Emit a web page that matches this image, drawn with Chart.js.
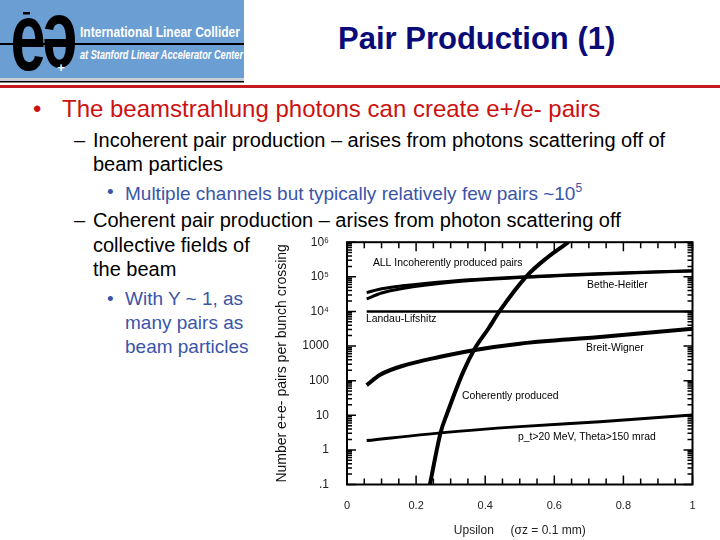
<!DOCTYPE html>
<html>
<head>
<meta charset="utf-8">
<script src="https://cdn.jsdelivr.net/npm/chart.js@4.4.1/dist/chart.umd.min.js"></script>
<style>
body { margin:0; width:720px; height:540px; background:#fff; position:relative; overflow:hidden; font-family:"Liberation Sans", Arial, sans-serif; }
.t { position:absolute; white-space:nowrap; line-height:1; }
.red { color:#cc1111; font-size:24px; }
.blk { color:#000; font-size:20px; }
.blu { color:#3a55a8; font-size:19px; }
#chart { position:absolute; left:270px; top:225px; }
</style>
</head>
<body>
<svg width="245" height="84" style="position:absolute;left:0;top:0">
  <rect x="0" y="0" width="244" height="78" fill="#6b9ed3"/>
  <rect x="0" y="78" width="244" height="3" fill="#c9ced6"/>
  <rect x="0" y="81" width="244" height="1.5" fill="#000"/>
  <line x1="0" y1="44" x2="244" y2="44" stroke="#000" stroke-width="2"/>
  <text transform="translate(28,70) scale(0.66,1)" font-size="96" font-weight="bold" text-anchor="middle" font-family="Liberation Sans">e</text>
  <text transform="translate(60,16) rotate(180) scale(0.66,1)" font-size="96" font-weight="bold" text-anchor="middle" font-family="Liberation Sans">e</text>
  <rect x="23" y="12" width="7" height="2.5" fill="#000"/>
  <text x="61" y="72" font-size="13" font-weight="bold" fill="#fff" text-anchor="middle" font-family="Liberation Sans">+</text>
  <text x="80" y="37" textLength="160" lengthAdjust="spacingAndGlyphs" fill="#fff" font-weight="bold" font-size="14" font-family="Liberation Sans">International Linear Collider</text>
  <text x="80" y="59" textLength="163" lengthAdjust="spacingAndGlyphs" fill="#fff" font-weight="bold" font-style="italic" font-size="13" font-family="Liberation Sans">at Stanford Linear Accelerator Center</text>
</svg>
<div style="position:absolute;left:0;top:85px;width:720px;height:3px;background:#c41a1f"></div>
<div class="t" style="left:338px;top:23px;font-size:31px;font-weight:bold;color:#0b0b78">Pair Production (1)</div>

<div class="t red" style="left:33px;top:97px">•</div>
<div class="t red" style="left:62px;top:97px">The beamstrahlung photons can create e+/e- pairs</div>
<div class="t blk" style="left:74px;top:130px">–</div>
<div class="t blk" style="left:93px;top:130px">Incoherent pair production – arises from photons scattering off of</div>
<div class="t blk" style="left:93px;top:154px">beam particles</div>
<div class="t blu" style="left:107px;top:182px">•</div>
<div class="t blu" style="left:125px;top:182px">Multiple channels but typically relatively few pairs ~10<sup style="font-size:12px;vertical-align:8px">5</sup></div>
<div class="t blk" style="left:74px;top:210px">–</div>
<div class="t blk" style="left:93px;top:210px">Coherent pair production – arises from photon scattering off</div>
<div class="t blk" style="left:93px;top:235px">collective fields of</div>
<div class="t blk" style="left:93px;top:259px">the beam</div>
<div class="t blu" style="left:107px;top:289px">•</div>
<div class="t blu" style="left:125px;top:289px">With Y ~ 1, as</div>
<div class="t blu" style="left:125px;top:313px">many pairs as</div>
<div class="t blu" style="left:125px;top:337px">beam particles</div>

<canvas id="chart" width="440" height="315"></canvas>

<script>
// Upsilon (x) and pairs per bunch crossing (y) for each curve
const allX = [0.057, 0.1, 0.16, 0.3, 0.5, 0.7, 1.0]
const allY = [3.5e4, 4.5e4, 5.5e4, 7.5e4, 9.8e4, 1.2e5, 1.5e5]
const bhX = [0.057, 0.1, 0.16, 0.3, 0.5, 0.7, 1.0]
const bhY = [2.3e4, 3.4e4, 4.6e4, 7.0e4, 9.5e4, 1.17e5, 1.47e5]
const llX = [0.057, 1.0]
const llY = [1e4, 1e4]
const bwX = [0.057, 0.096, 0.173, 0.27, 0.366, 0.5, 0.732, 1.0]
const bwY = [74, 148, 290, 490, 760, 1170, 1820, 3160]
const ptX = [0.057, 0.27, 0.5, 0.732, 1.0]
const ptY = [1.86, 3.1, 4.7, 6.5, 10.2]
const cohX = [0.240, 0.271, 0.289, 0.337, 0.370, 0.409, 0.441, 0.52, 0.578, 0.641]
const cohY = [0.1, 3.2, 10.7, 186, 850, 3160, 1e4, 1.05e5, 3.5e5, 1e6]

const xTickValues = [0, 0.2, 0.4, 0.6, 0.8, 1]
const xTickLabels = ["0", "0.2", "0.4", "0.6", "0.8", "1"]
const yTickValues = [0.1, 1, 10, 100, 1000, 1e4, 1e5, 1e6]
const yTickLabels = [".1", "1", "10", "100", "1000", "10⁴", "10⁵", "10⁶"]

const noteTexts = ["ALL Incoherently produced pairs", "Bethe-Heitler", "Landau-Lifshitz",
  "Breit-Wigner", "Coherently produced", "p_t>20 MeV, Theta>150 mrad"]
const noteX = [0.075, 0.695, 0.055, 0.692, 0.333, 0.495]
const noteY = [2.5e5, 5.6e4, 6000, 890, 35, 2.3]

function pts(xs, ys) {
  return xs.map((v, i) => ({ x: v, y: ys[i] }))
}

function curve(label, xs, ys, w) {
  return {
    label: label,
    data: pts(xs, ys),
    borderColor: "#000",
    borderWidth: w,
    pointRadius: 0,
    cubicInterpolationMode: "monotone",
    fill: false
  }
}

// box, inside tick marks and curve names
const frame = {
  id: "frame",
  afterDatasetsDraw(chart) {
    const ctx = chart.ctx
    const a = chart.chartArea
    const x = chart.scales.x
    const y = chart.scales.y
    ctx.save()
    ctx.strokeStyle = "#000"
    ctx.lineWidth = 2
    ctx.strokeRect(a.left, a.top, a.right - a.left, a.bottom - a.top)
    ctx.lineWidth = 1.5
    ctx.beginPath()
    for (let e = -1; e <= 5; e++) {
      for (let m = 1; m <= 10; m++) {
        const py = y.getPixelForValue(m * Math.pow(10, e))
        const len = (m === 1 || m === 10) ? 9 : 5
        ctx.moveTo(a.left, py); ctx.lineTo(a.left + len, py)
        ctx.moveTo(a.right, py); ctx.lineTo(a.right - len, py)
      }
    }
    for (let i = 0; i <= 20; i++) {
      const px = x.getPixelForValue(i * 0.05)
      const len = i % 4 === 0 ? 9 : 6
      ctx.moveTo(px, a.bottom); ctx.lineTo(px, a.bottom - len)
      ctx.moveTo(px, a.top); ctx.lineTo(px, a.top + len)
    }
    ctx.stroke()
    ctx.fillStyle = "#000"
    ctx.font = '10.4px "Liberation Sans"'
    ctx.textBaseline = "middle"
    noteTexts.forEach((txt, i) => {
      ctx.fillText(txt, x.getPixelForValue(noteX[i]), y.getPixelForValue(noteY[i]))
    })
    ctx.restore()
  }
}

const config = {
  type: "line",
  data: {
    datasets: [
      curve("ALL", allX, allY, 3),
      curve("Bethe-Heitler", bhX, bhY, 3),
      curve("Landau-Lifshitz", llX, llY, 2.5),
      curve("Breit-Wigner", bwX, bwY, 4),
      curve("pt cut", ptX, ptY, 3),
      curve("Coherent", cohX, cohY, 4)
    ]
  },
  options: {
    responsive: false,
    animation: false,
    devicePixelRatio: 1,
    layout: { padding: { top: 14, right: 17.5, left: 0, bottom: 0 } },
    plugins: { legend: { display: false }, tooltip: { enabled: false } },
    scales: {
      x: {
        type: "linear",
        min: 0,
        max: 1,
        afterBuildTicks: (s) => { s.ticks = xTickValues.map(v => ({ value: v })) },
        afterFit: (s) => { s.height = 55.5 },
        grid: { display: false },
        border: { display: false },
        ticks: {
          autoSkip: false,
          maxRotation: 0,
          padding: 7,
          color: "#222",
          font: { family: "Liberation Sans", size: 11 },
          callback: (v) => xTickLabels[xTickValues.indexOf(v)]
        },
        title: {
          display: true,
          text: "Upsilon     (σz = 0.1 mm)",
          color: "#222",
          font: { family: "Liberation Sans", size: 12 },
          padding: { top: 0, bottom: 2 }
        }
      },
      y: {
        type: "logarithmic",
        min: 0.1,
        max: 1e6,
        afterBuildTicks: (s) => { s.ticks = yTickValues.map(v => ({ value: v })) },
        afterFit: (s) => { s.width = 77 },
        grid: { display: false },
        border: { display: false },
        ticks: {
          padding: 10,
          color: "#222",
          font: { family: "Liberation Sans", size: 12 },
          callback: (v) => yTickLabels[yTickValues.indexOf(v)]
        },
        title: {
          display: true,
          text: "Number e+e- pairs per bunch crossing",
          color: "#111",
          font: { family: "Liberation Sans", size: 14 },
          padding: { top: 4, bottom: 0 }
        }
      }
    }
  },
  plugins: [frame]
}

new Chart(document.getElementById("chart"), config)
</script>
</body>
</html>
